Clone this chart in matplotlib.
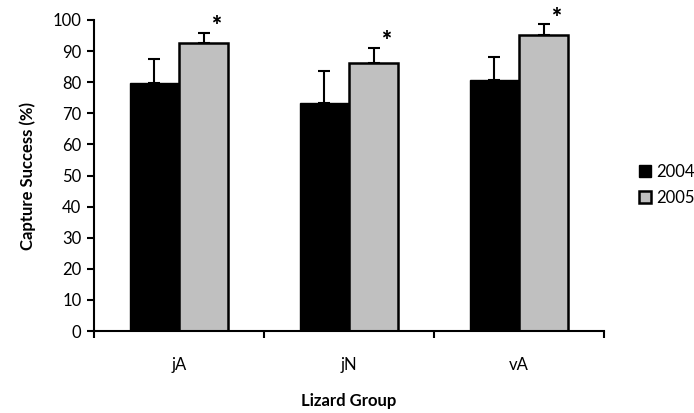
import matplotlib
matplotlib.use("Agg")
import matplotlib.pyplot as plt
import numpy as np

categories = ["jA", "jN", "vA"]
series = ["2004", "2005"]
values_2004 = [79.6, 73.2, 80.7]
values_2005 = [92.5, 86.1, 95.2]
err_2004 = [7.9, 10.4, 7.5]
err_2005 = [3.4, 4.8, 3.4]
significant = [True, True, True]
y_ticks = [0, 10, 20, 30, 40, 50, 60, 70, 80, 90, 100]

plt.rcParams['font.family'] = ['Lato', 'DejaVu Sans']

fig = plt.figure(figsize=(6.94, 4.13), dpi=100)
ax = fig.add_axes([94/694, (413-331)/413, (604-94)/694, (331-20)/413])

x = np.arange(len(categories))
w = 0.29
b1 = ax.bar(x - w/2, values_2004, w, color='black', edgecolor='black', linewidth=1.0, label=series[0], zorder=2)
b2 = ax.bar(x + w/2, values_2005, w, color='#c0c0c0', edgecolor='black', linewidth=1.8, label=series[1], zorder=2)

ax.errorbar(x - w/2, values_2004, yerr=[np.zeros(3), err_2004], fmt='none', ecolor='black',
            elinewidth=1.5, capsize=4.5, capthick=1.5, zorder=1)
ax.errorbar(x + w/2, values_2005, yerr=[np.zeros(3), err_2005], fmt='none', ecolor='black',
            elinewidth=1.5, capsize=4.5, capthick=1.5, zorder=1)

for xi, v, e, s in zip(x, values_2005, err_2005, significant):
    if s:
        ax.annotate('*', xy=(xi + w/2, v + e), xytext=(9, -3), textcoords='offset points',
                    ha='center', va='bottom', fontsize=17, fontweight='heavy', annotation_clip=False)

ax.set_xlim(-0.5, len(categories) - 0.5)
ax.set_ylim(0, 100)
ax.set_yticks(y_ticks)
ax.set_yticklabels([str(t) for t in y_ticks], fontsize=12)
ax.set_xticks(x)
ax.set_xticklabels(categories, fontsize=12)
ax.tick_params(axis='x', length=0, pad=19)
ax.set_xticks(np.arange(len(categories) + 1) - 0.5, minor=True)
ax.tick_params(axis='x', which='minor', length=5, width=1.5, direction='out')
ax.tick_params(axis='y', length=5, width=1.5, direction='out', pad=4)

for sp in ['top', 'right']:
    ax.spines[sp].set_visible(False)
for sp in ['left', 'bottom']:
    ax.spines[sp].set_linewidth(1.5)

ax.set_ylabel('Capture Success (%)', fontsize=12, fontweight='bold', labelpad=12)
ax.set_xlabel('Lizard Group', fontsize=12, fontweight='bold', labelpad=14)

leg = ax.legend(handles=[b1, b2], labels=series, loc='center left', bbox_to_anchor=(1.04, 0.47),
                frameon=False, fontsize=12, handlelength=0.7, handleheight=0.7, handletextpad=0.3,
                labelspacing=0.6)

fig.savefig('out.png', dpi=100)
